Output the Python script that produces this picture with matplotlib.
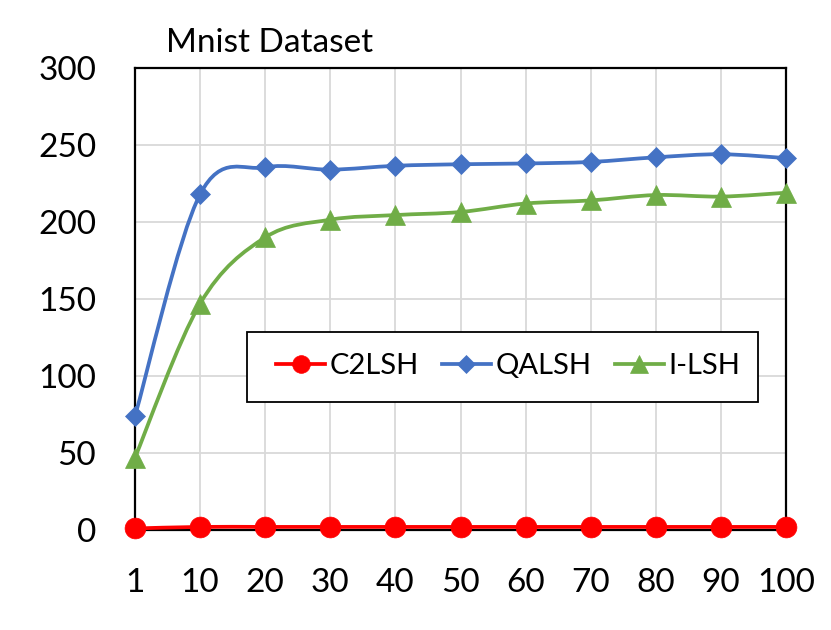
import numpy as np
import matplotlib
matplotlib.use("Agg")
import matplotlib.pyplot as plt
from matplotlib.path import Path
from matplotlib.patches import PathPatch, Rectangle
from matplotlib.lines import Line2D

plt.rcParams['font.family'] = ['Lato', 'DejaVu Sans']

categories = ["1", "10", "20", "30", "40", "50", "60", "70", "80", "90", "100"]
c2lsh = [1, 2, 2, 2, 2, 2, 2, 2, 2, 2, 2]
qalsh = [74, 218, 235.5, 234, 236.5, 237.5, 238, 239, 242, 244, 241.5]
ilsh = [47, 147, 190, 201.5, 204.5, 206.5, 212, 214, 217.5, 216.5, 219]

series = [
    ("C2LSH", c2lsh, "#FF0000", "o", 15),
    ("QALSH", qalsh, "#4472C4", "D", 10.5),
    ("I-LSH", ilsh, "#70AD47", "^", 15),
]


def smooth_path(xs, ys):
    pts = np.column_stack([xs, ys]).astype(float)
    n = len(pts)
    verts = [pts[0]]
    codes = [Path.MOVETO]
    for i in range(n - 1):
        p0 = pts[i - 1] if i > 0 else pts[i]
        p1 = pts[i]
        p2 = pts[i + 1]
        p3 = pts[i + 2] if i + 2 < n else pts[i + 1]
        c1 = p1 + (p2 - p0) / 6.0
        c2 = p2 - (p3 - p1) / 6.0
        verts += [c1, c2, p2]
        codes += [Path.CURVE4] * 3
    return Path(verts, codes)


fig = plt.figure(figsize=(8.31, 6.30), dpi=100)
ax = fig.add_axes([135 / 831, 1 - 530 / 630, 651 / 831, 462 / 630])

x = np.arange(len(categories))
handles = []
for name, vals, col, mk, ms in series:
    path = smooth_path(x, vals)
    patch = PathPatch(path, fill=False, edgecolor=col, lw=2.7, capstyle='round',
                      joinstyle='round', zorder=3, clip_on=False)
    ax.add_patch(patch)
    ax.plot(x, vals, linestyle='none', marker=mk, markersize=ms, color=col,
            markeredgecolor=col, markeredgewidth=0.5, zorder=4, clip_on=False)
    handles.append(Line2D([], [], color=col, lw=2.7, marker=mk,
                          markersize=ms * 0.85, markeredgecolor=col,
                          markeredgewidth=0.5, label=name))

ax.set_xlim(0, len(categories) - 1)
ax.set_ylim(0, 300)
ax.set_yticks(np.arange(0, 301, 50))
ax.set_xticks(x)
ax.set_xticklabels(categories)
ax.grid(True, color="#D9D9D9", lw=1.3, zorder=0)
ax.set_axisbelow(True)
for s in ax.spines.values():
    s.set_color("black")
    s.set_linewidth(1.6)
    s.set_zorder(2)
ax.tick_params(axis='x', length=5, width=1.5, direction='out', labelsize=24, pad=22)
ax.tick_params(axis='y', length=0, labelsize=24, pad=28)

# legend box
box = Rectangle((0.172, 0.277), 0.785, 0.152, transform=ax.transAxes,
                facecolor='white', edgecolor='black', lw=1.3, zorder=5)
ax.add_patch(box)
leg = ax.legend(handles=handles, ncol=3, loc='center left',
                bbox_to_anchor=((276 - 135) / 651, (530 - 366) / 462),
                fontsize=21, frameon=False, borderpad=0,
                handlelength=1.68, handletextpad=0.15, columnspacing=0.8,
                borderaxespad=0)
leg.set_zorder(6)

fig.text(166 / 831, 1 - 52 / 630, "Mnist Dataset", fontsize=24, ha='left', va='baseline')

fig.savefig("out.png", dpi=100, facecolor="white")
